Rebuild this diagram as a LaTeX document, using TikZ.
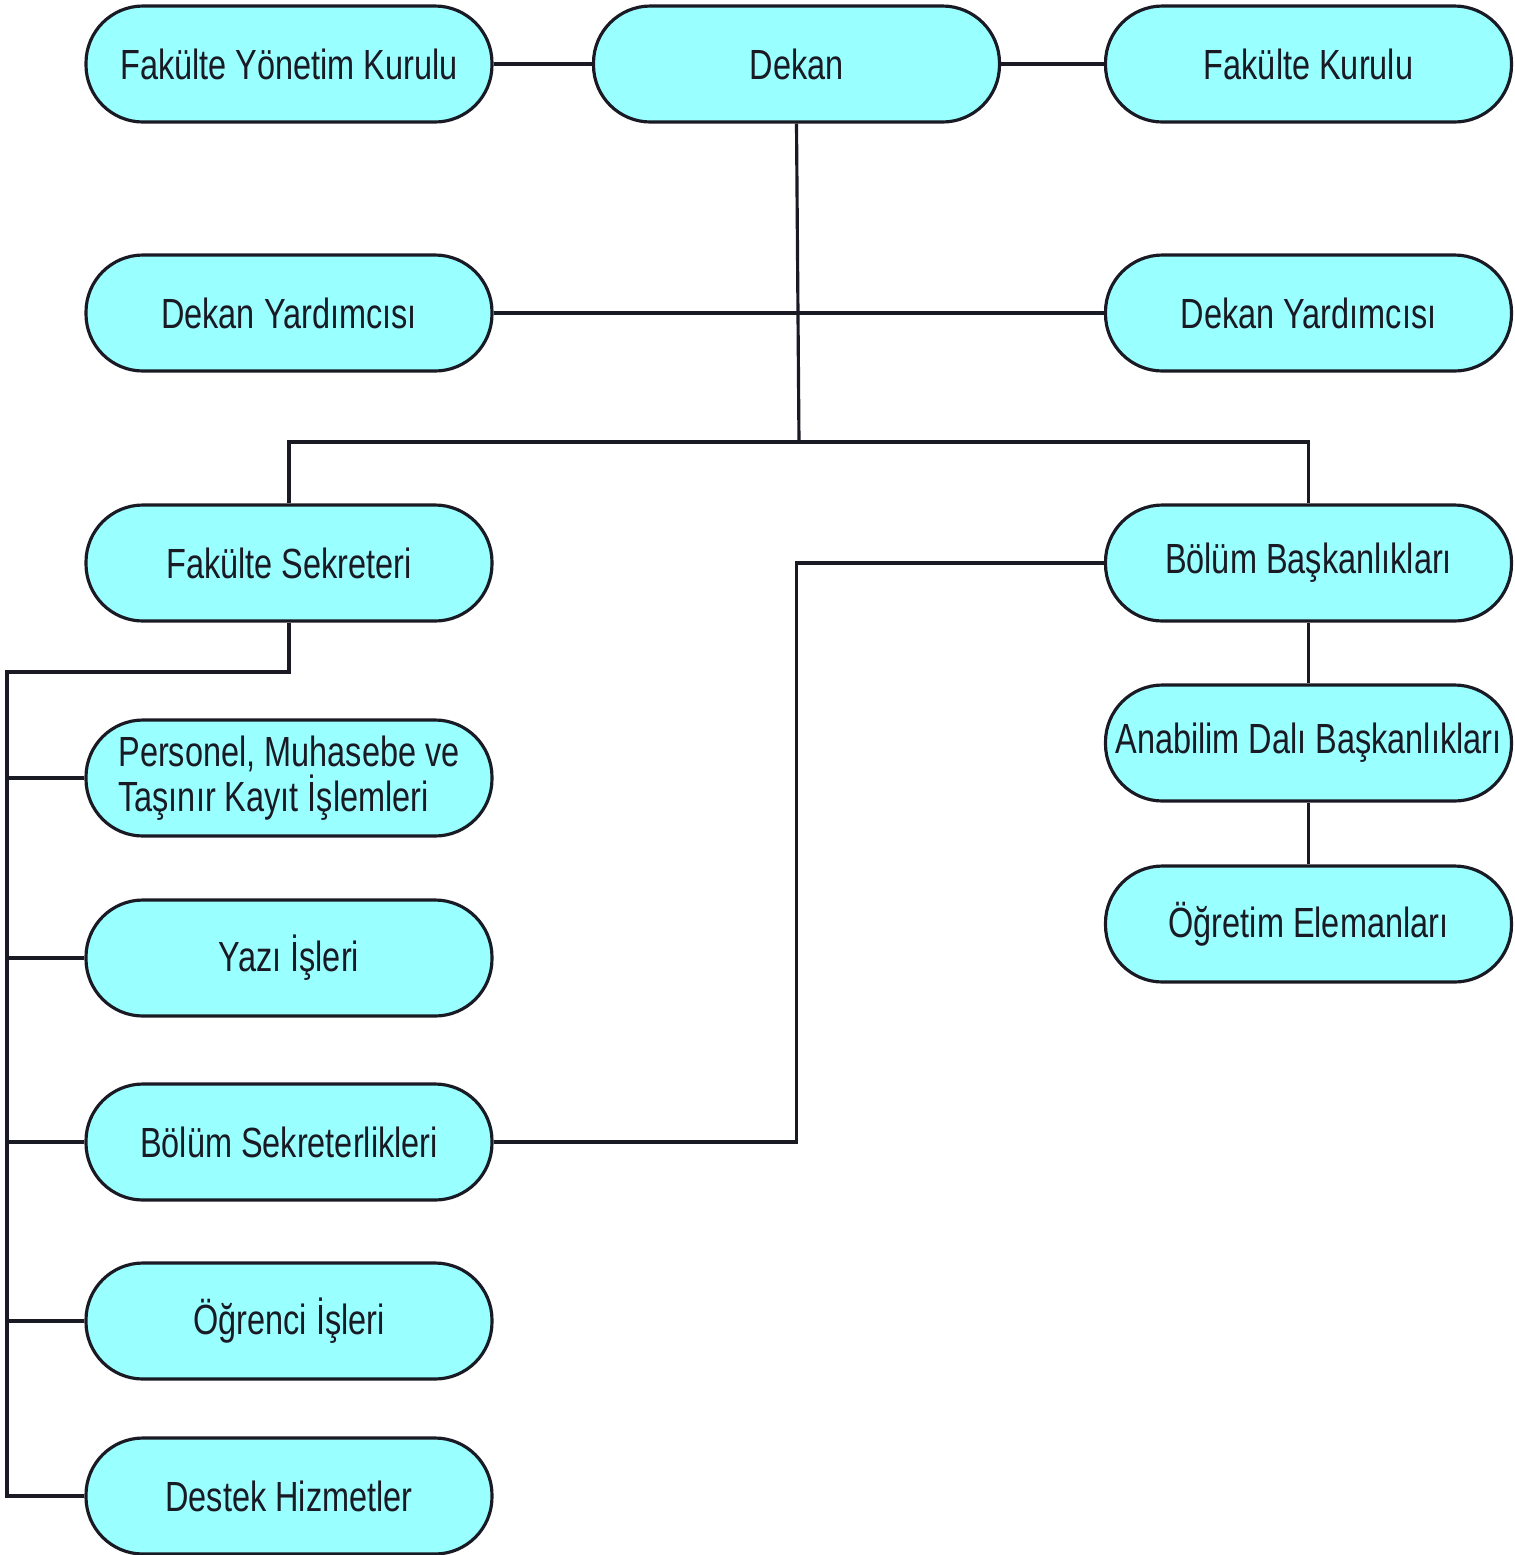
\documentclass[tikz,border=0pt]{standalone}
\usepackage{fontspec}
\setmainfont{Liberation Sans}[FakeStretch=0.77]
\usepackage{xcolor}
\usepackage{tikz}
\usetikzlibrary{positioning,calc}
\definecolor{unitcyan}{RGB}{153,255,255}
\definecolor{inkdark}{RGB}{26,26,36}

\begin{document}
\begin{tikzpicture}[
    font=\fontsize{12}{12.8}\selectfont,
    unit/.style={rectangle, draw=inkdark, line width=0.9pt, rounded corners=0.57cm, minimum width=4.06cm, minimum height=1.16cm, fill=unitcyan, text=inkdark, inner sep=0pt},
    link/.style={draw=inkdark, line width=0.9pt}
]
    \useasboundingbox (0,0) rectangle (15.14,-15.55);

    % Top row
    \node[unit] (yonetim) at (2.89, -0.64) {Fakülte Yönetim Kurulu};
    \node[unit] (dekan) at (7.965, -0.64) {Dekan};
    \node[unit] (kurul) at (13.085, -0.64) {Fakülte Kurulu};

    % Deputies
    \node[unit] (yardim1) at (2.89, -3.13) {Dekan Yardımcısı};
    \node[unit] (yardim2) at (13.085, -3.13) {Dekan Yardımcısı};

    % Secretary side
    \node[unit] (sekreter) at (2.89, -5.63) {Fakülte Sekreteri};
    \node[unit, align=left] (personel) at (2.89, -7.78) {Personel, Muhasebe ve\\Taşınır Kayıt İşlemleri};
    \node[unit] (yazi) at (2.89, -9.58) {Yazı İşleri};
    \node[unit] (bsekreter) at (2.89, -11.42) {Bölüm Sekreterlikleri};
    \node[unit] (ogrenci) at (2.89, -13.21) {Öğrenci İşleri};
    \node[unit] (destek) at (2.89, -14.96) {Destek Hizmetler};

    % Academic side
    \node[unit] (bolum) at (13.085, -5.63) {Bölüm Başkanlıkları};
    \node[unit] (anabilim) at (13.085, -7.43) {Anabilim Dalı Başkanlıkları};
    \node[unit] (ogretim) at (13.085, -9.24) {Öğretim Elemanları};

    \coordinate (bus) at (7.99, -4.42);
    \coordinate (leftbus) at (0.07, -6.72);

    % Routing
    \draw[link] (yonetim.east) -- (dekan.west);
    \draw[link] (dekan.east) -- (kurul.west);
    \draw[link] (yardim1.east) -- (yardim2.west);
    \draw[link] (dekan.south) -- (bus);
    \draw[link] (sekreter.north) |- (bus) -| (bolum.north);

    \draw[link] (bolum.south) -- (anabilim.north);
    \draw[link] (anabilim.south) -- (ogretim.north);
    \draw[link] (bsekreter.east) -- (bsekreter.east -| dekan.south) |- (bolum.west);

    \draw[link] (sekreter.south) |- (leftbus) |- (destek.west);
    \foreach \n in {personel, yazi, bsekreter, ogrenci}
        \draw[link] (leftbus |- \n.west) -- (\n.west);

\end{tikzpicture}
\end{document}
